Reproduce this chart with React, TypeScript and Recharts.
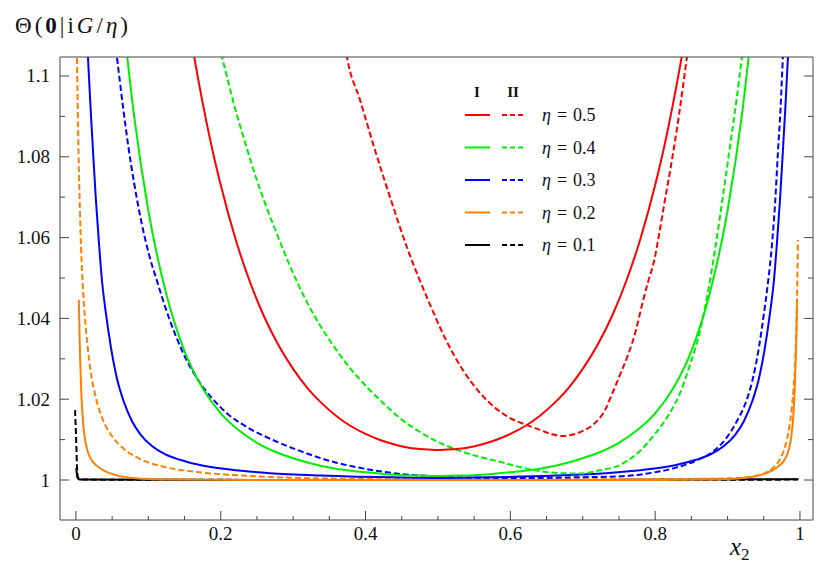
import React from 'react';
import { LineChart, Line, XAxis, YAxis, Legend, Label } from 'recharts';

type Pt = [number, number];

// legend rows, top to bottom
const etas = ['0.5', '0.4', '0.3', '0.2', '0.1'];
const colors = ['#ff0000', '#00ee00', '#0000ff', '#ff8000', '#000000'];

const xTicks = [0, 0.05, 0.1, 0.15, 0.2, 0.25, 0.3, 0.35, 0.4, 0.45, 0.5, 0.55, 0.6, 0.65, 0.7, 0.75, 0.8, 0.85, 0.9, 0.95, 1];
const xMajor = [0, 0.2, 0.4, 0.6, 0.8, 1];
const yTicks = [1, 1.01, 1.02, 1.03, 1.04, 1.05, 1.06, 1.07, 1.08, 1.09, 1.1];
const yMajor = [1, 1.02, 1.04, 1.06, 1.08, 1.1];

// eta = 0.5
const redI: Pt[] = [
  [0.155, 1.1139], [0.16, 1.1083], [0.17, 1.0981], [0.18, 1.0889], [0.19, 1.0805], [0.2, 1.073],
  [0.22, 1.0599], [0.24, 1.0492], [0.26, 1.0404], [0.28, 1.0333], [0.3, 1.0275], [0.32, 1.0227],
  [0.34, 1.0189], [0.36, 1.0158], [0.38, 1.0133], [0.4, 1.0114], [0.42, 1.0099], [0.44, 1.0088],
  [0.46, 1.008], [0.48, 1.0076], [0.5, 1.0074], [0.52, 1.0076], [0.54, 1.008], [0.56, 1.0088],
  [0.58, 1.0099], [0.6, 1.0114], [0.62, 1.0133], [0.64, 1.0158], [0.66, 1.0189], [0.68, 1.0227],
  [0.7, 1.0275], [0.72, 1.0333], [0.74, 1.0404], [0.76, 1.0492], [0.78, 1.0599], [0.8, 1.073],
  [0.81, 1.0805], [0.82, 1.0889], [0.83, 1.0981], [0.84, 1.1083], [0.845, 1.1139],
];
const redII: Pt[] = [
  [0.368, 1.112], [0.3743, 1.1047], [0.3923, 1.0941], [0.413, 1.0817], [0.4351, 1.0693], [0.4586, 1.0569],
  [0.4862, 1.0446], [0.511, 1.0347], [0.5345, 1.0272], [0.5608, 1.021], [0.5829, 1.0173], [0.6022, 1.0151],
  [0.6229, 1.0136], [0.6409, 1.0124], [0.6561, 1.0114], [0.6713, 1.0109], [0.6892, 1.0114], [0.703, 1.0124],
  [0.7169, 1.0141], [0.7307, 1.0173], [0.7417, 1.0218], [0.7514, 1.026], [0.7624, 1.0309], [0.7735, 1.0371],
  [0.7818, 1.0433], [0.7901, 1.049], [0.7983, 1.054], [0.8052, 1.0606], [0.8135, 1.0693], [0.8232, 1.0792],
  [0.8329, 1.0903], [0.8439, 1.1047], [0.8508, 1.1139],
];
// eta = 0.4
const greenI: Pt[] = [
  [0.065, 1.1144], [0.08, 1.0906], [0.1, 1.0667], [0.125, 1.0459], [0.15, 1.0319], [0.175, 1.0227],
  [0.2, 1.0165], [0.225, 1.0123], [0.25, 1.0092], [0.275, 1.007], [0.3, 1.0054], [0.325, 1.0041],
  [0.35, 1.0031], [0.375, 1.0024], [0.4, 1.0019], [0.425, 1.0015], [0.45, 1.0012], [0.475, 1.0011],
  [0.5, 1.001], [0.525, 1.0011], [0.55, 1.0012], [0.575, 1.0015], [0.6, 1.0019], [0.625, 1.0024],
  [0.65, 1.0031], [0.675, 1.0041], [0.7, 1.0054], [0.725, 1.007], [0.75, 1.0092], [0.775, 1.0123],
  [0.8, 1.0165], [0.825, 1.0227], [0.85, 1.0319], [0.875, 1.0459], [0.9, 1.0667], [0.92, 1.0906],
  [0.935, 1.1144],
];
const greenII: Pt[] = [
  [0.1975, 1.1077], [0.2017, 1.1047], [0.2086, 1.0998], [0.2196, 1.0921], [0.2334, 1.0837], [0.2472, 1.0757],
  [0.261, 1.0686], [0.2776, 1.0609], [0.2956, 1.053], [0.3135, 1.046], [0.3343, 1.0391], [0.355, 1.0334],
  [0.3785, 1.0277], [0.4019, 1.023], [0.424, 1.0191], [0.4475, 1.0153], [0.4751, 1.0119], [0.5028, 1.0092],
  [0.5304, 1.0072], [0.558, 1.0057], [0.5856, 1.0045], [0.6133, 1.0032], [0.6409, 1.0022], [0.6685, 1.0017],
  [0.6961, 1.0016], [0.7238, 1.0024], [0.7514, 1.0037], [0.779, 1.0072], [0.7997, 1.0114], [0.8204, 1.0166],
  [0.8343, 1.0215], [0.8481, 1.0285], [0.8619, 1.0369], [0.8729, 1.0465], [0.8826, 1.0569], [0.8923, 1.0686],
  [0.9019, 1.0807], [0.9116, 1.0931], [0.9199, 1.1047], [0.9268, 1.1144],
];
// eta = 0.3
const blueI: Pt[] = [
  [0.0152, 1.1089], [0.0166, 1.1047], [0.02, 1.0928], [0.0235, 1.0817], [0.0276, 1.0693], [0.0318, 1.0587],
  [0.0359, 1.0495], [0.0414, 1.0413], [0.0483, 1.0329], [0.0566, 1.0252], [0.0663, 1.0193], [0.0773, 1.0146],
  [0.0898, 1.0111], [0.105, 1.0084], [0.1229, 1.0064], [0.1436, 1.005], [0.1713, 1.0037], [0.2127, 1.0026],
  [0.268, 1.0017], [0.337, 1.0011], [0.4475, 1.0006], [0.5, 1.0005], [0.5525, 1.0006], [0.663, 1.0011],
  [0.732, 1.0017], [0.7873, 1.0026], [0.8287, 1.0037], [0.8564, 1.005], [0.8771, 1.0064], [0.895, 1.0084],
  [0.9102, 1.0111], [0.9227, 1.0146], [0.9337, 1.0193], [0.9434, 1.0252], [0.9517, 1.0329], [0.9586, 1.0413],
  [0.9641, 1.0495], [0.9682, 1.0587], [0.9724, 1.0693], [0.9765, 1.0817], [0.98, 1.0928], [0.9834, 1.1047],
  [0.9848, 1.1089],
];
const blueII: Pt[] = [
  [0.0539, 1.1089], [0.0566, 1.1047], [0.0608, 1.0985], [0.0663, 1.0906], [0.0725, 1.0824], [0.0801, 1.0738],
  [0.0898, 1.0644], [0.1008, 1.0559], [0.1119, 1.0493], [0.1243, 1.0423], [0.1381, 1.0356], [0.1533, 1.0295],
  [0.1685, 1.0248], [0.1878, 1.0203], [0.2099, 1.0163], [0.2362, 1.0131], [0.2721, 1.0099], [0.3094, 1.0072],
  [0.355, 1.0045], [0.4019, 1.0027], [0.4475, 1.0015], [0.5, 1.0009], [0.55, 1.0006], [0.62, 1.0005],
  [0.6989, 1.0007], [0.7514, 1.0009], [0.7928, 1.0017], [0.8273, 1.003], [0.8591, 1.005], [0.8826, 1.0074],
  [0.8992, 1.0106], [0.913, 1.0146], [0.9254, 1.0193], [0.9351, 1.0252], [0.9434, 1.0329], [0.9503, 1.0413],
  [0.9558, 1.0488], [0.9613, 1.0582], [0.9655, 1.0681], [0.9696, 1.0812], [0.9731, 1.0916], [0.9765, 1.1047],
  [0.9786, 1.1101],
];
// eta = 0.2
const orangeI: Pt[] = [
  [0.004, 1.0446], [0.0048, 1.0371], [0.0059, 1.0297], [0.0073, 1.0223], [0.0091, 1.0161], [0.0117, 1.0111],
  [0.0152, 1.0077], [0.0207, 1.0052], [0.029, 1.0035], [0.0401, 1.0022], [0.0552, 1.0012], [0.0787, 1.0005],
  [0.1298, 1.0001], [0.2403, 1.0], [0.5, 1.0], [0.7597, 1.0], [0.8702, 1.0001], [0.9213, 1.0005],
  [0.9448, 1.0012], [0.9599, 1.0022], [0.971, 1.0035], [0.9793, 1.0052], [0.9848, 1.0077], [0.9883, 1.0111],
  [0.9909, 1.0161], [0.9927, 1.0223], [0.9941, 1.0297], [0.9952, 1.0371], [0.996, 1.0446],
];
const orangeII: Pt[] = [
  [0.0008, 1.1089], [0.0014, 1.1047], [0.0021, 1.0965], [0.003, 1.0866], [0.0041, 1.0767], [0.0055, 1.0668],
  [0.0072, 1.0569], [0.0094, 1.0483], [0.0122, 1.0408], [0.0159, 1.0334], [0.0207, 1.0265], [0.0276, 1.0203],
  [0.0373, 1.0149], [0.0497, 1.0109], [0.0663, 1.0077], [0.0884, 1.0052], [0.1229, 1.0032], [0.1713, 1.0019],
  [0.2403, 1.001], [0.3094, 1.0005], [0.4475, 1.0002], [0.6, 1.0002], [0.8, 1.0002], [0.8619, 1.0003],
  [0.913, 1.0005], [0.9378, 1.001], [0.9517, 1.0017], [0.9627, 1.003], [0.971, 1.0047], [0.9779, 1.0074],
  [0.9834, 1.0111], [0.9876, 1.0161], [0.991, 1.0223], [0.9938, 1.0309], [0.9959, 1.0446], [0.9972, 1.0594],
];
// eta = 0.1
const blackI: Pt[] = [
  [0.0005, 1.003], [0.002, 1.0006], [0.005, 1.0001], [0.3, 1.0], [0.7, 1.0], [0.998, 1.0002],
];
const blackII: Pt[] = [
  [-0.0012, 1.0173], [0.0005, 1.009], [0.0015, 1.003], [0.003, 1.0006], [0.008, 1.0001], [0.5, 1.0], [0.997, 1.0001],
];

const series = [
  { name: 'blackI', pts: blackI, color: colors[4], dashed: false },
  { name: 'blackII', pts: blackII, color: colors[4], dashed: true },
  { name: 'orangeI', pts: orangeI, color: colors[3], dashed: false },
  { name: 'orangeII', pts: orangeII, color: colors[3], dashed: true },
  { name: 'blueI', pts: blueI, color: colors[2], dashed: false },
  { name: 'blueII', pts: blueII, color: colors[2], dashed: true },
  { name: 'greenI', pts: greenI, color: colors[1], dashed: false },
  { name: 'greenII', pts: greenII, color: colors[1], dashed: true },
  { name: 'redI', pts: redI, color: colors[0], dashed: false },
  { name: 'redII', pts: redII, color: colors[0], dashed: true },
];

const FONT = 'Liberation Serif, Times New Roman, Times, serif';
const AXIS = '#444';
const isMajor = (list: number[], v: number) => list.some((m) => Math.abs(m - v) < 1e-9);

const BottomTick = (props: any) => {
  const { x, y, payload } = props;
  const major = isMajor(xMajor, payload.value);
  return (
    <g>
      <line x1={x} x2={x} y1={y} y2={y - (major ? 9 : 4)} stroke={AXIS} />
      {major && (
        <text x={x} y={y + 20} textAnchor="middle" style={{ fontFamily: FONT }} fontSize={19} fill="#111">
          {String(payload.value)}
        </text>
      )}
    </g>
  );
};

const TopTick = (props: any) => {
  const { x, y, payload } = props;
  const major = isMajor(xMajor, payload.value);
  return <line x1={x} x2={x} y1={y} y2={y + (major ? 9 : 4)} stroke={AXIS} />;
};

const LeftTick = (props: any) => {
  const { x, y, payload } = props;
  const major = isMajor(yMajor, payload.value);
  return (
    <g>
      <line x1={x} x2={x + (major ? 9 : 5)} y1={y} y2={y} stroke={AXIS} />
      {major && (
        <text x={x - 10} y={y + 6.5} textAnchor="end" style={{ fontFamily: FONT }} fontSize={19} fill="#111">
          {String(payload.value)}
        </text>
      )}
    </g>
  );
};

const RightTick = (props: any) => {
  const { x, y, payload } = props;
  const major = isMajor(yMajor, payload.value);
  return <line x1={x} x2={x - (major ? 9 : 5)} y1={y} y2={y} stroke={AXIS} />;
};

const XTitle = (props: any) => {
  const vb = props.viewBox;
  return (
    <text x={vb.x + vb.width - 83} y={vb.y + 35} style={{ fontFamily: FONT }} fontSize={25} fill="#111">
      <tspan fontStyle="italic">x</tspan>
      <tspan fontSize={17} dy={5}>2</tspan>
    </text>
  );
};

const YTitle = (props: any) => {
  const vb = props.viewBox;
  return (
    <text x={vb.x + 7} y={vb.y - 24} style={{ fontFamily: FONT }} fontSize={23} fill="#111" textLength={113} lengthAdjust="spacing">
      <tspan>Θ(</tspan>
      <tspan fontWeight="bold">0</tspan>
      <tspan>|i</tspan>
      <tspan fontStyle="italic">G</tspan>
      <tspan>/</tspan>
      <tspan fontStyle="italic">η</tspan>
      <tspan>)</tspan>
    </text>
  );
};

const renderLegend = () => (
  <svg width={160} height={185} style={{ fontFamily: FONT }}>
    <text x={17} y={22} textAnchor="middle" fontWeight="bold" fontSize={15} fill="#111">I</text>
    <text x={53} y={22} textAnchor="middle" fontWeight="bold" fontSize={15} fill="#111">II</text>
    {etas.map((eta, i) => {
      const cy = 40 + i * 32.5;
      return (
        <g key={eta}>
          <line x1={5} x2={30} y1={cy} y2={cy} stroke={colors[i]} strokeWidth={2} />
          <line x1={42} x2={64} y1={cy} y2={cy} stroke={colors[i]} strokeWidth={2} strokeDasharray="5 3" />
          <text x={82} y={cy + 6} fontSize={18} fill="#111">
            <tspan fontStyle="italic">η</tspan>
            <tspan dx={6}>=</tspan>
            <tspan dx={6}>{eta}</tspan>
          </text>
        </g>
      );
    })}
  </svg>
);

export default function App() {
  return (
    <LineChart width={820} height={556} margin={{ top: 48, right: 14, bottom: 0, left: 0 }}>
      <XAxis
        dataKey="x"
        type="number"
        domain={[-0.022, 1.018]}
        allowDataOverflow
        ticks={xTicks}
        interval={0}
        tickSize={0}
        tickMargin={0}
        tickLine={false}
        tick={<BottomTick />}
        height={44}
        stroke={AXIS}
      >
        <Label content={<XTitle />} />
      </XAxis>
      <XAxis
        xAxisId="top"
        orientation="top"
        type="number"
        domain={[-0.022, 1.018]}
        allowDataOverflow
        ticks={xTicks}
        interval={0}
        tickSize={0}
        tickMargin={0}
        tickLine={false}
        tick={<TopTick />}
        height={1}
        stroke={AXIS}
      />
      <YAxis
        type="number"
        domain={[0.9901, 1.1047]}
        allowDataOverflow
        ticks={yTicks}
        interval={0}
        tickSize={0}
        tickMargin={0}
        tickLine={false}
        tick={<LeftTick />}
        width={52}
        stroke={AXIS}
      >
        <Label content={<YTitle />} />
      </YAxis>
      <YAxis
        yAxisId="right"
        orientation="right"
        type="number"
        domain={[0.9901, 1.1047]}
        allowDataOverflow
        ticks={yTicks}
        interval={0}
        tickSize={0}
        tickMargin={0}
        tickLine={false}
        tick={<RightTick />}
        width={1}
        stroke={AXIS}
      />
      <Legend
        layout="horizontal"
        verticalAlign="middle"
        align="center"
        content={renderLegend}
        wrapperStyle={{ left: 452, top: 67, width: 160, height: 185 }}
      />
      {series.map((s) => (
        <Line
          key={s.name}
          data={s.pts.map(([x, y]) => ({ x, y }))}
          dataKey="y"
          type="monotone"
          stroke={s.color}
          strokeWidth={2}
          strokeDasharray={s.dashed ? '6 3' : undefined}
          dot={false}
          activeDot={false}
          isAnimationActive={false}
        />
      ))}
    </LineChart>
  );
}
